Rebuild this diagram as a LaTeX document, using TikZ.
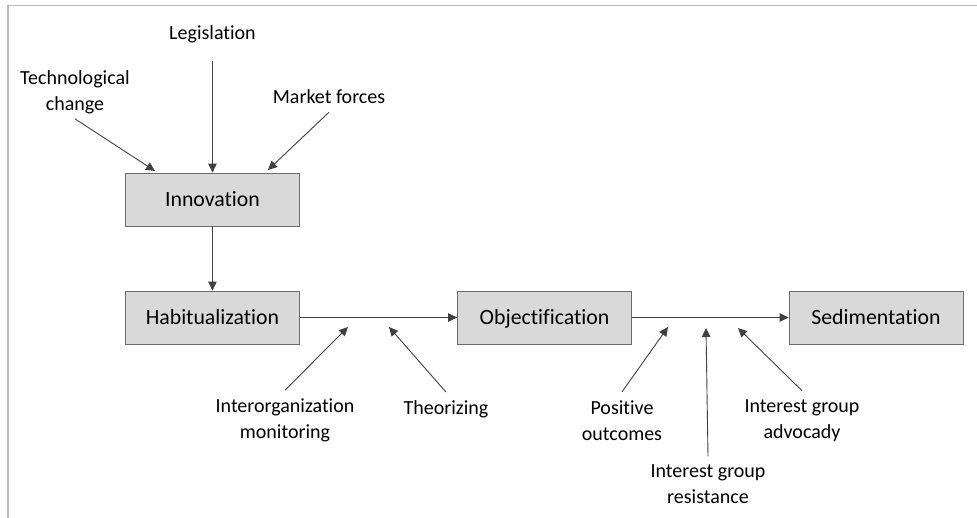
\documentclass[tikz,border=0pt]{standalone}
\usepackage{fontspec}
\setmainfont{Carlito}[Ligatures=NoCommon]
\usetikzlibrary{arrows.meta}
\definecolor{stagefill}{HTML}{D9D9D9}
\begin{document}
\begin{tikzpicture} [
                x=1pt, y=-1pt,
                stage/.style={rectangle,draw=black!58,fill=stagefill,line width=0.8pt,
                    minimum width=174pt,minimum height=53pt,inner sep=0pt,
                    text height=18pt,text depth=4pt,
                    font=\fontsize{21.8}{26}\selectfont},
                factor/.style={align=center,inner sep=0pt,font=\fontsize{20}{26}\selectfont},
                arr/.style={draw=black!75,line width=0.9pt,-{Triangle[length=9pt,width=8.5pt]}},
            ]
            \useasboundingbox (0,0) rectangle (977,518);
            \draw[black!28,line width=1.4pt] (8,518) -- (8,5.5) -- (977,5.5);
            % First we draw the stages
            \foreach \pos/\name/\word in {
                    {(212.5,199.5)/innov/Innovation},
                    {(212.5,317.5)/habit/Habitualization},
                    {(544.5,317.5)/objec/Objectification},
                    {(876,317.5)/sedim/Sedimentation}}
                \node[stage] (\name) at \pos {\word};
            % Then the factors around them
            \foreach \pos/\name/\word in {
                    {(75,92)/tech/Technological\\change},
                    {(212.5,34)/legis/Legislation},
                    {(329,97)/market/Market forces},
                    {(285,420)/interorg/Interorganization\\monitoring},
                    {(446,409)/theor/Theorizing},
                    {(622,421)/posout/Positive\\outcomes},
                    {(708,484)/resist/Interest group\\resistance},
                    {(802,421)/advoc/Interest group\\advocady}}
                \node[factor] (\name) at \pos {\word};
            % Points where the factors hit
            \coordinate (tech-in) at (155,171);
            \coordinate (market-in) at (268,170);
            \coordinate (interorg-in) at (348,327);
            \coordinate (theor-in) at (389,327);
            \coordinate (posout-in) at (668,327);
            \coordinate (resist-in) at (706,328);
            \coordinate (advoc-in) at (738,328);
            % Connect stages
            \foreach \source/ \dest in {
                    innov/habit,
                    habit/objec,
                    objec/sedim}
                \path[arr] (\source) -- (\dest);
            \path[arr] ([yshift=-18pt]legis.south) -- (innov.north);
            \foreach \source/\gap in {tech/5,market/8}
                \path[arr] ([yshift=-\gap pt]\source.south) -- (\source-in);
            \foreach \source/\gap in {interorg/8,theor/8,posout/9,resist/8,advoc/9}
                \path[arr] ([yshift=\gap pt]\source.north) -- (\source-in);
        \end{tikzpicture}
\end{document}
